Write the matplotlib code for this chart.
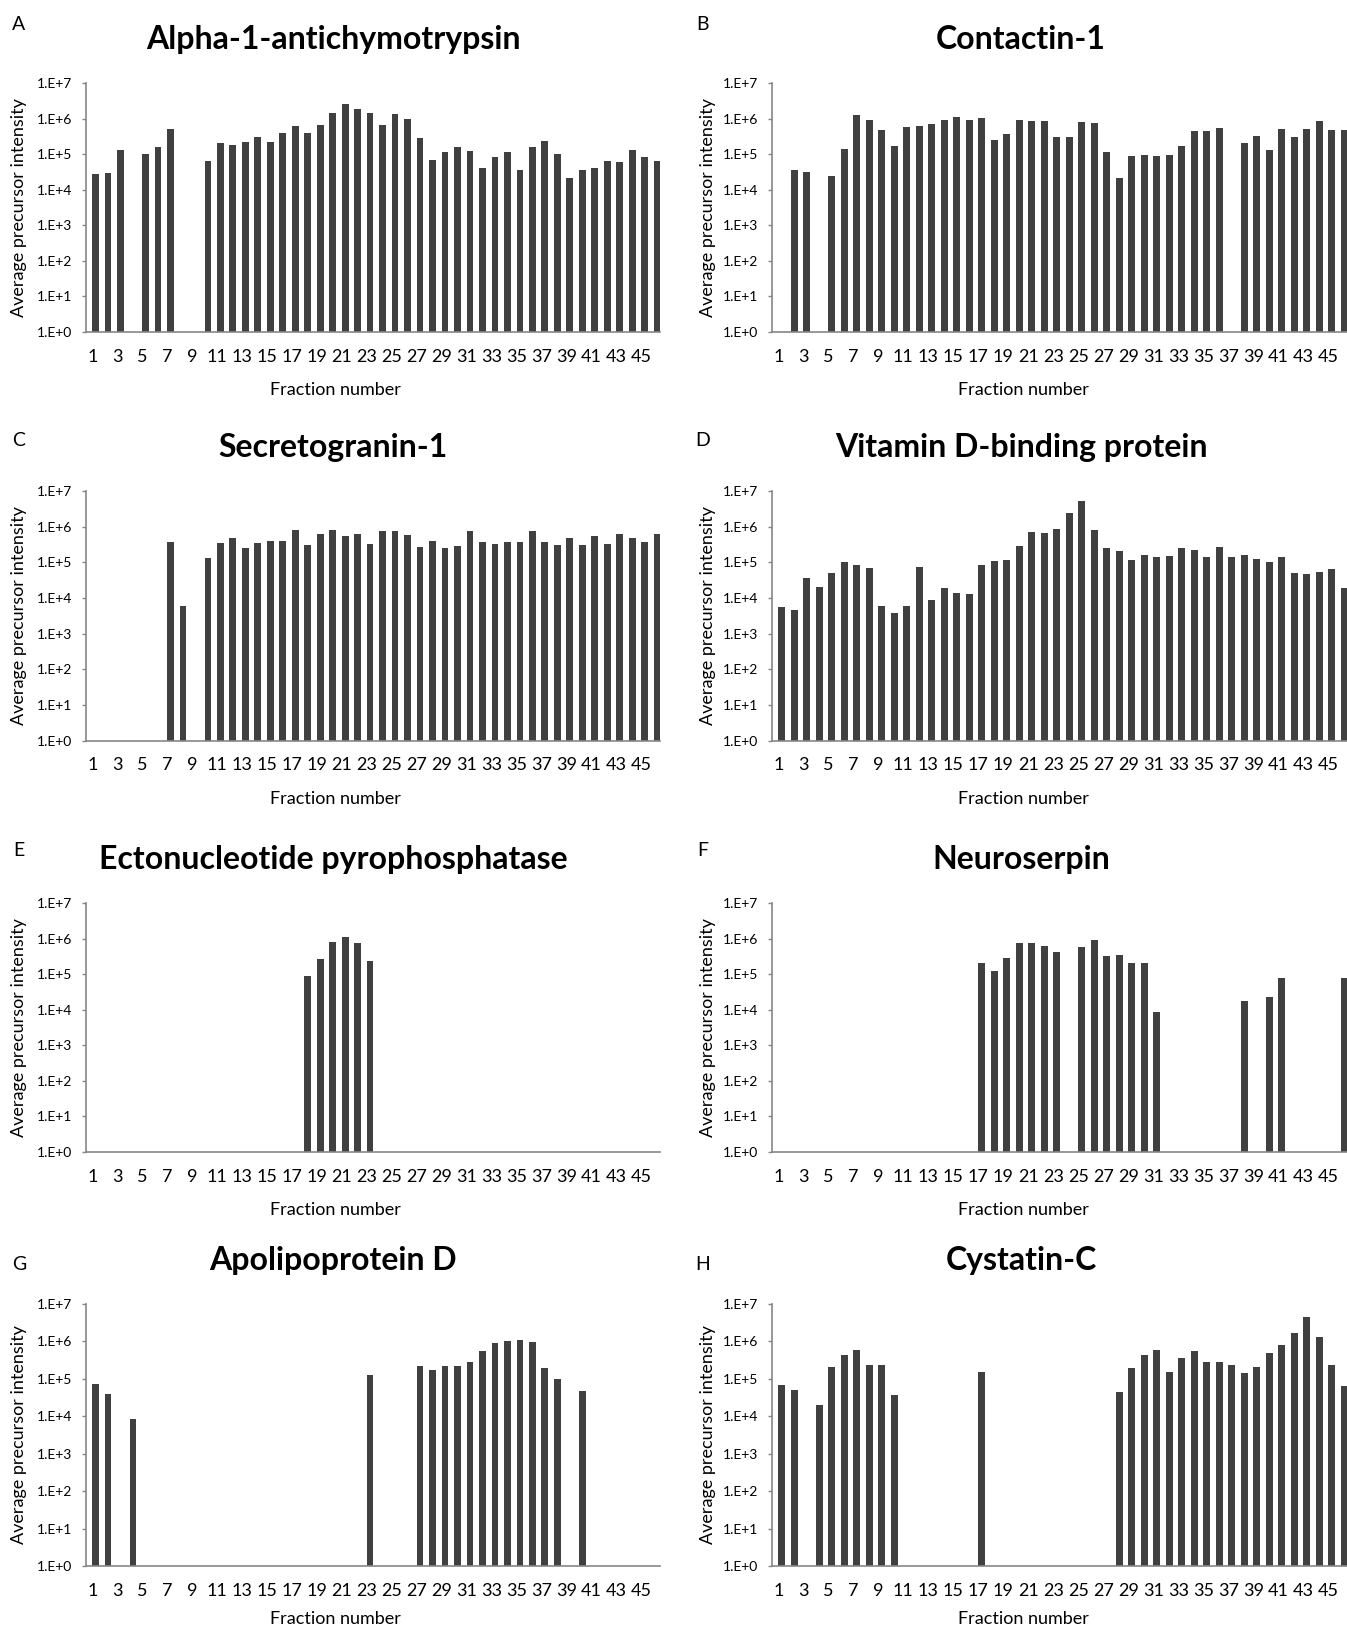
import numpy as np
import matplotlib
matplotlib.use("Agg")
import matplotlib.pyplot as plt
from matplotlib.ticker import FixedLocator, FixedFormatter

# ------------------------------------------------------------
# DATA  (average precursor intensity per fraction, None = not detected)
# ------------------------------------------------------------

fractions = list(range(1, 47))

alpha1_act = [2.75e4, 2.9e4, 1.3e5, None, 9.8e4, 1.55e5, 5.2e5, None, None, 6.5e4,
              2.1e5, 1.8e5, 2.2e5, 2.95e5, 2.2e5, 4.0e5, 6.2e5, 3.9e5, 6.6e5, 1.45e6,
              2.6e6, 1.9e6, 1.4e6, 6.8e5, 1.35e6, 1.0e6, 2.9e5, 6.8e4, 1.17e5, 1.55e5,
              1.23e5, 4.0e4, 8.5e4, 1.17e5, 3.5e4, 1.55e5, 2.4e5, 9.8e4, 2.2e4, 3.55e4,
              4.2e4, 6.3e4, 5.9e4, 1.35e5, 8.5e4, 6.5e4]

contactin1 = [None, 3.7e4, 3.2e4, None, 2.5e4, 1.42e5, 1.26e6, 9.3e5, 4.7e5, 1.7e5,
              5.8e5, 6.0e5, 7.2e5, 9.3e5, 1.09e6, 9.1e5, 1.04e6, 2.45e5, 3.7e5, 9.0e5,
              8.7e5, 8.5e5, 3.0e5, 3.1e5, 7.9e5, 7.3e5, 1.15e5, 2.2e4, 9.0e4, 9.5e4,
              8.7e4, 9.7e4, 1.7e5, 4.5e5, 4.6e5, 5.5e5, None, 2.0e5, 3.3e5, 1.3e5,
              5.0e5, 3.1e5, 5.2e5, 8.5e5, 4.9e5, 4.9e5]

secretogranin1 = [None, None, None, None, None, None, 3.8e5, 6.1e3, None, 1.3e5,
                  3.4e5, 4.7e5, 2.45e5, 3.4e5, 3.95e5, 3.9e5, 8.2e5, 3.0e5, 6.4e5, 7.9e5,
                  5.6e5, 6.2e5, 3.3e5, 7.6e5, 7.6e5, 5.7e5, 2.6e5, 3.9e5, 2.5e5, 2.8e5,
                  7.7e5, 3.6e5, 3.3e5, 3.7e5, 3.6e5, 7.4e5, 3.7e5, 3.1e5, 4.7e5, 3.0e5,
                  5.4e5, 3.3e5, 6.1e5, 4.8e5, 3.8e5, 6.3e5]

vitd_bp = [5.5e3, 4.7e3, 3.7e4, 2.0e4, 4.9e4, 1.0e5, 8.6e4, 6.7e4, 5.9e3, 3.8e3,
           5.9e3, 7.4e4, 8.5e3, 1.86e4, 1.38e4, 1.32e4, 8.3e4, 1.07e5, 1.18e5, 2.8e5,
           6.9e5, 6.8e5, 8.5e5, 2.35e6, 5.1e6, 8.3e5, 2.5e5, 2.1e5, 1.17e5, 1.58e5,
           1.44e5, 1.48e5, 2.5e5, 2.2e5, 1.38e5, 2.75e5, 1.42e5, 1.6e5, 1.2e5, 1.02e5,
           1.44e5, 4.9e4, 4.8e4, 5.5e4, 6.6e4, 1.9e4]

ectonucleotide = [None] * 17 + [8.7e4, 2.7e5, 8.2e5, 1.09e6, 7.4e5, 2.3e5] + [None] * 23

neuroserpin = ([None] * 16
               + [2.05e5, 1.25e5, 2.9e5, 7.7e5, 7.7e5, 6.0e5, 4.1e5, None,
                  5.8e5, 9.4e5, 3.2e5, 3.5e5, 2.1e5, 2.0e5, 8.7e3]
               + [None] * 6
               + [1.77e4, None, 2.3e4, 8.0e4, None, None, None, None, 8.0e4])

apolipoprotein_d = ([7.2e4, 4.0e4, None, 8.5e3] + [None] * 18
                    + [1.28e5, None, None, None,
                       2.15e5, 1.74e5, 2.15e5, 2.15e5, 2.9e5, 5.4e5, 9.2e5, 1.0e6,
                       1.1e6, 9.6e5, 1.96e5, 1.0e5, None, 4.8e4]
                    + [None] * 6)

cystatin_c = ([6.8e4, 5.0e4, None, 2.0e4, 2.04e5, 4.4e5, 5.8e5, 2.4e5, 2.3e5, 3.8e4]
              + [None] * 6 + [1.49e5] + [None] * 10
              + [4.4e4, 1.95e5, 4.3e5, 5.9e5, 1.56e5, 3.6e5, 5.7e5, 2.8e5, 2.8e5,
                 2.3e5, 1.47e5, 2.1e5, 5.0e5, 8.1e5, 1.66e6, 4.4e6, 1.33e6, 2.3e5, 6.4e4])

titles = ["Alpha-1-antichymotrypsin", "Contactin-1", "Secretogranin-1",
          "Vitamin D-binding protein", "Ectonucleotide pyrophosphatase",
          "Neuroserpin", "Apolipoprotein D", "Cystatin-C"]
letters = ["A", "B", "C", "D", "E", "F", "G", "H"]
series = [alpha1_act, contactin1, secretogranin1, vitd_bp,
          ectonucleotide, neuroserpin, apolipoprotein_d, cystatin_c]

y_ticks = [10 ** k for k in range(8)]
y_tick_labels = ["1.E+%d" % k for k in range(8)]
x_ticks = list(range(1, 47, 2))

# ------------------------------------------------------------
# LAYOUT (pixel positions in a 1347 x 1628 canvas)
# ------------------------------------------------------------

W, H = 1347, 1628
plt.rcParams["font.family"] = ["Lato", "DejaVu Sans"]

BAR = "#404040"
AXIS = "#868686"

col_x = [(86, 660), (772, 1347)]
rows = [(83, 332), (491, 740.5), (903, 1152), (1304, 1566)]
title_x = [333, 1021]
letter_x = [19, 703]
letter_y = [25, 441, 850, 1265]
ylab_x = [19, 708]
xlab_x = [335, 1023]
xlab_off = [58, 58, 58, 53]   # last row pulled up a bit so it stays on the canvas

fig = plt.figure(figsize=(W / 100, H / 100), dpi=100)

for i, (vals, title, letter) in enumerate(zip(series, titles, letters)):
    r, c = divmod(i, 2)
    x0, x1 = col_x[c]
    top, bot = rows[r]
    ax = fig.add_axes([x0 / W, 1 - bot / H, (x1 - x0) / W, (bot - top) / H])

    xs = [f for f, v in zip(fractions, vals) if v is not None]
    hs = [v for v in vals if v is not None]

    ax.set_yscale("log")
    ax.bar(xs, hs, width=0.54, align="edge", color=BAR, linewidth=0)
    ax.set_ylim(1, 1e7)
    ax.set_xlim(0.5, 46.5)

    ax.yaxis.set_major_locator(FixedLocator(y_ticks))
    ax.yaxis.set_major_formatter(FixedFormatter(y_tick_labels))
    ax.yaxis.set_minor_locator(FixedLocator([]))
    ax.set_xticks(x_ticks)
    ax.set_xticklabels([str(t) for t in x_ticks])

    for s in ["top", "right"]:
        ax.spines[s].set_visible(False)
    for s in ["left", "bottom"]:
        ax.spines[s].set_color(AXIS)
        ax.spines[s].set_linewidth(1.2)

    ax.tick_params(axis="y", length=3, width=1, color=AXIS, pad=7, labelsize=10)
    ax.tick_params(axis="x", length=0, pad=12, labelsize=13)

    # panel texts
    fig.text(title_x[c] / W, 1 - (top - 34) / H, title, ha="center",
             va="baseline", fontsize=23, fontweight="bold")
    fig.text(letter_x[c] / W, 1 - letter_y[r] / H, letter, ha="center",
             va="center", fontsize=14)
    fig.text(ylab_x[c] / W, 1 - ((top + bot) / 2) / H, "Average precursor intensity",
             rotation=90, ha="center", va="center", fontsize=13)
    fig.text(xlab_x[c] / W, 1 - (bot + xlab_off[r]) / H, "Fraction number",
             ha="center", va="center", fontsize=13)

fig.savefig("out.png", dpi=100)
